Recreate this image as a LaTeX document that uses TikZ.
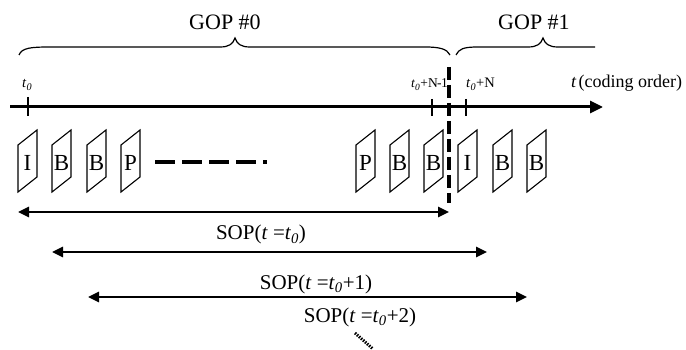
\documentclass[tikz,border=0pt]{standalone}
\usepackage{fontspec}
\setmainfont{Liberation Serif}
\usetikzlibrary{arrows.meta}
\newcommand\tz{\textit{t}\textsubscript{\textit{0}}}
\begin{document}
\begin{tikzpicture}[x=1pt,y=-1pt,
  frm/.style={line width=1.1pt, line join=miter},
  flabel/.style={font=\fontsize{23}{25}\selectfont, inner sep=0pt, anchor=base},
  big/.style={font=\fontsize{22}{24}\selectfont, inner sep=0pt, anchor=base},
  sopl/.style={font=\fontsize{21}{23}\selectfont, inner sep=0pt, anchor=base},
  small/.style={font=\fontsize{14.5}{16}\selectfont, inner sep=0pt, anchor=base west},
  tickmark/.style={line width=1.4pt},
  brace/.style={line width=1.2pt},
  sop/.style={line width=2.6pt, {Triangle[length=11pt,width=10pt]}-{Triangle[length=11pt,width=10pt]}},
  axis/.style={line width=3pt, -{Triangle[length=13pt,width=12pt]}},
]
\useasboundingbox (0,0) rectangle (686,350);

% braces
\draw[brace] (19,55) .. controls (22,48) and (30,47) .. (50,47) -- (220,47)
  .. controls (229,47) and (233,44) .. (235,38)
  .. controls (237,44) and (241,47) .. (250,47) -- (425,47)
  .. controls (440,47) and (447,49) .. (450,55);
\draw[brace] (456,55) .. controls (459,49) and (463,47) .. (478,47) -- (528,47)
  .. controls (537,47) and (541,44) .. (543,38)
  .. controls (545,44) and (549,47) .. (558,47) -- (595,47);
\node[big] (gop0) at (225,30) {GOP \#0};
\node[big] (gop1) at (534,30) {GOP \#1};

% time axis
\coordinate (a0) at (10,107);
\coordinate (a1) at (603,107);
\draw[axis] (a0) -- (a1);
\draw[tickmark] (28,97) -- (28,116);
\draw[tickmark] (432,99) -- (432,116);
\draw[tickmark] (466,99) -- (466,116);
\node[small] (lt0) at (22,88) {\tz};
\node[small, font=\fontsize{13.5}{15}\selectfont] (ltn1) at (411,88) {\tz+N\kern-0.6pt-\kern-0.6pt1};
\node[small] (ltn) at (466,88) {\tz+N};
\node[font=\fontsize{18}{20}\selectfont, inner sep=0pt, anchor=base west] (lord) at (571,88) {\textit{t}\kern2pt(coding order)};

% GOP boundary
\coordinate (d0) at (449,67);
\coordinate (d1) at (449,203);
\draw[line width=4pt, dash pattern=on 13pt off 5pt] (d0) -- (d1);

% frames
\foreach \x/\l [count=\i] in {18/I,52/B,87/B,121/P,356/P,390/B,424/B,458/I,493/B,527/B}{
  \draw[frm] (\x,192) -- (\x,145) -- (\x+19,130) -- (\x+19,177) -- cycle;
  \node[flabel] (f\i) at (\x+9.5,171) {\l};
}
\coordinate (h0) at (155,162);
\coordinate (h1) at (267,162);
\draw[line width=4pt, dash pattern=on 19.5pt off 7.5pt] (h0) -- (h1);

% SOP arrows
\coordinate (s1a) at (18,212);
\coordinate (s1b) at (449,212);
\coordinate (s2a) at (52,252);
\coordinate (s2b) at (487,252);
\coordinate (s3a) at (88,297);
\coordinate (s3b) at (527,297);
\draw[sop] (s1a) -- (s1b);
\draw[sop] (s2a) -- (s2b);
\draw[sop] (s3a) -- (s3b);
\node[sopl] (sop0) at (261,240) {SOP(\textit{t} =\tz)};
\node[sopl] (sop1) at (316,289) {SOP(\textit{t} =\tz+1)};
\node[sopl] (sop2) at (360,322) {SOP(\textit{t} =\tz+2)};
\coordinate (m0) at (355,333);
\coordinate (m1) at (373,349);
\draw[line width=3pt, dash pattern=on 1.5pt off 1.2pt] (m0) -- (m1);
\end{tikzpicture}
\end{document}
